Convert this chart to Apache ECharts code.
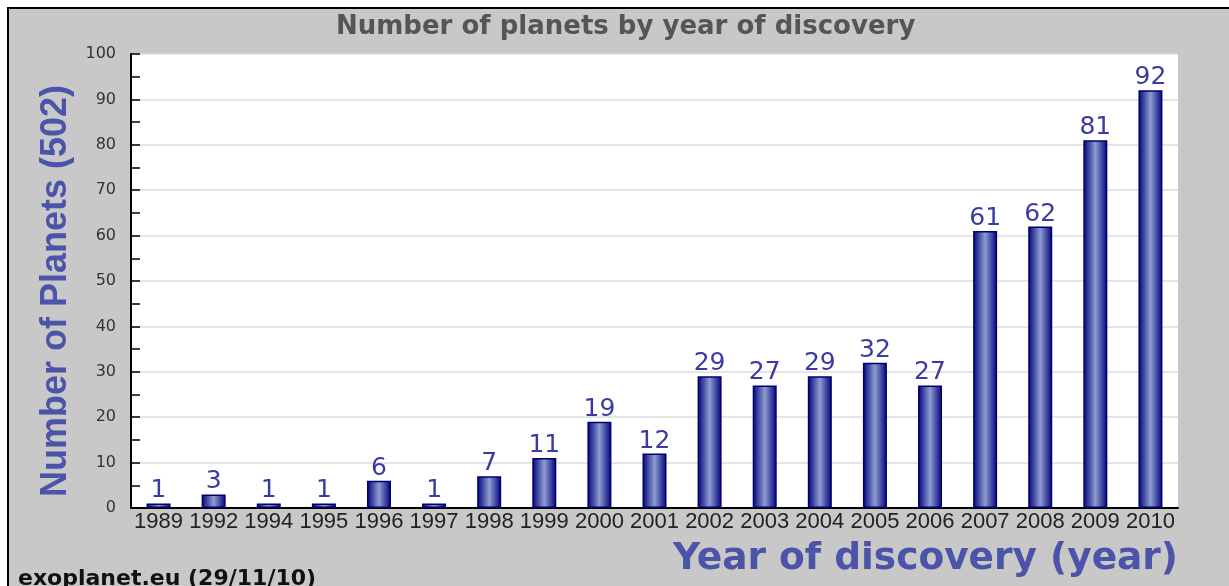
<!DOCTYPE html>
<html>
<head>
<meta charset="utf-8">
<script src="https://cdn.jsdelivr.net/npm/echarts@6/dist/echarts.min.js"></script>
<style>
  html, body { margin: 0; padding: 0; background: #ffffff; }
  #chart { width: 1229px; height: 586px; }
</style>
</head>
<body>
<div id="chart"></div>
<script>
// Exoplanets discovered per year
const years = ['1989', '1992', '1994', '1995', '1996', '1997', '1998', '1999', '2000', '2001',
               '2002', '2003', '2004', '2005', '2006', '2007', '2008', '2009', '2010'];
const planetCounts = [1, 3, 1, 1, 6, 1, 7, 11, 19, 12, 29, 27, 29, 32, 27, 61, 62, 81, 92];
const yTicks = { min: 0, max: 100, step: 10 };

const chart = echarts.init(document.getElementById('chart'), null, { renderer: 'canvas' });

const barFill = new echarts.graphic.LinearGradient(0, 0, 1, 0, [
  { offset: 0, color: '#00007c' },
  { offset: 0.5, color: '#8d9dcf' },
  { offset: 1, color: '#00007c' }
]);

chart.setOption({
  animation: false,
  backgroundColor: '#ffffff',
  graphic: [
    {
      type: 'rect', z: -10, silent: true,
      shape: { x: 8, y: 8, width: 1240, height: 600 },
      style: { fill: '#c8c8c8', stroke: '#000000', lineWidth: 2 }
    },
    {
      type: 'text', left: 18, top: 568,
      style: { text: 'exoplanet.eu (29/11/10)', fill: '#111111',
               font: 'bold 22px "DejaVu Sans", sans-serif' }
    }
  ],
  title: {
    text: 'Number of planets by year of discovery',
    left: 331, top: 9,
    textStyle: { color: '#555555', fontSize: 26, fontWeight: 'bold',
                 fontFamily: '"DejaVu Sans", sans-serif' }
  },
  grid: { left: 131, right: 51, top: 54, bottom: 78, show: true,
          backgroundColor: '#ffffff', borderWidth: 0 },
  xAxis: {
    type: 'category',
    data: years,
    name: 'Year of discovery (year)',
    nameLocation: 'end',
    nameGap: 0,
    nameTextStyle: {
      color: '#4b54a8', fontSize: 37.5, fontWeight: 'bold',
      fontFamily: '"DejaVu Sans", sans-serif',
      align: 'right', verticalAlign: 'top', padding: [32, 0, 0, 0]
    },
    axisLine: { lineStyle: { color: '#000000', width: 2 } },
    axisTick: { inside: true, length: 6, alignWithLabel: false,
                lineStyle: { color: '#000000', width: 1.5 } },
    axisLabel: { color: '#222222', fontSize: 22, margin: 3, interval: 0,
                 fontFamily: '"Liberation Sans", sans-serif' },
    splitLine: { show: false }
  },
  yAxis: {
    type: 'value',
    min: yTicks.min, max: yTicks.max, interval: yTicks.step,
    name: 'Number of Planets (502)',
    nameLocation: 'middle',
    nameGap: 46,
    nameTextStyle: {
      color: '#4b54a8', fontSize: 36, fontWeight: 'bold',
      fontFamily: '"Liberation Sans", sans-serif', padding: [0, 20, 0, 0]
    },
    axisLine: { show: true, lineStyle: { color: '#000000', width: 2 } },
    axisTick: { show: true, inside: true, length: 9,
                lineStyle: { color: '#000000', width: 1.5 } },
    minorTick: { show: true, splitNumber: 2, length: 9,
                 lineStyle: { color: '#000000', width: 1.5 } },
    axisLabel: { color: '#333333', fontSize: 16, margin: 15,
                 fontFamily: '"DejaVu Sans", sans-serif' },
    splitLine: { show: true, lineStyle: { color: '#dddddd', width: 1.5 } }
  },
  series: [{
    type: 'bar',
    data: planetCounts,
    barWidth: 24,
    itemStyle: { color: barFill, borderColor: '#00006e', borderWidth: 1.5 },
    label: {
      show: true, position: 'top', distance: 0,
      color: '#3a3aa2', fontSize: 25,
      fontFamily: '"DejaVu Sans", sans-serif'
    }
  }]
});
</script>
</body>
</html>
